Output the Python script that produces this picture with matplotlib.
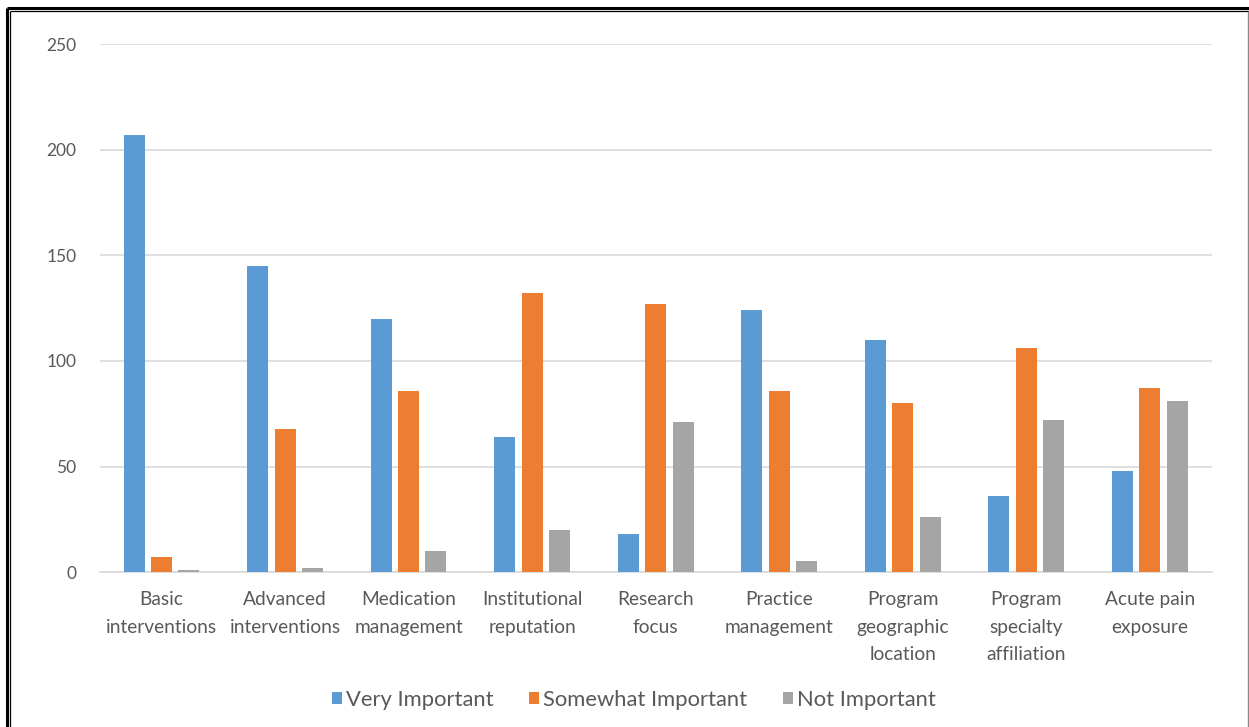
import numpy as np
import matplotlib
matplotlib.use('Agg')
import matplotlib.pyplot as plt
from matplotlib.lines import Line2D

plt.rcParams['font.family'] = ['Lato', 'DejaVu Sans']

categories = ['Basic\ninterventions', 'Advanced\ninterventions', 'Medication\nmanagement',
              'Institutional\nreputation', 'Research\nfocus', 'Practice\nmanagement',
              'Program\ngeographic\nlocation', 'Program\nspecialty\naffiliation',
              'Acute pain\nexposure']
very_important = [207, 145, 120, 64, 18, 124, 110, 36, 48]
somewhat_important = [7, 68, 86, 132, 127, 86, 80, 106, 87]
not_important = [1, 2, 10, 20, 71, 5, 26, 72, 81]

series = ['Very Important', 'Somewhat Important', 'Not Important']
colors = ['#5b9bd5', '#ed7d31', '#a5a5a5']
txt = '#595959'

fig = plt.figure(figsize=(12.49, 7.27), dpi=100)
ax = fig.add_axes([0.080, 0.2132, 0.890, 0.7256])

x = np.arange(len(categories))
w = 0.17
step = 0.221
for i, (vals, lab, c) in enumerate(zip([very_important, somewhat_important, not_important], series, colors)):
    ax.bar(x + (i - 1) * step, vals, width=w, color=c, label=lab, zorder=3)

ax.set_xlim(-0.5, len(categories) - 0.5)
ax.set_ylim(0, 250)
ax.set_yticks(range(0, 251, 50))
ax.yaxis.grid(True, color='#d9d9d9', linewidth=1.2, zorder=0)
for s in ['top', 'right', 'left']:
    ax.spines[s].set_visible(False)
ax.spines['bottom'].set_color('#d9d9d9')
ax.spines['bottom'].set_linewidth(1.2)
ax.tick_params(axis='y', length=0, pad=17, labelsize=12.5, labelcolor=txt)
ax.tick_params(axis='x', length=0, pad=14, labelsize=13.8, labelcolor=txt)
ax.set_xticks(x)
ax.set_xticklabels(categories, linespacing=1.72)

leg = fig.legend(loc='center', bbox_to_anchor=(634 / 1249, 1 - 700 / 727), ncol=3,
                 frameon=False, fontsize=15.8, handlelength=0.45, handleheight=0.45,
                 handletextpad=0.2, columnspacing=1.6)
for t in leg.get_texts():
    t.set_color(txt)

# double frame around the figure
W, H = 1249, 727
def fline(x0, y0, x1, y1, lw, c):
    fig.add_artist(Line2D([x0 / W, x1 / W], [1 - y0 / H, 1 - y1 / H], lw=lw, color=c,
                          transform=fig.transFigure, solid_capstyle='butt'))

fline(7, 8, W, 8, 2.2, 'black')
fline(7, 8, 7, H, 2.2, 'black')
fline(10, 11, W, 11, 0.9, 'black')
fline(10, 11, 10, H, 0.9, 'black')
fline(1248, 11, 1248, H, 1.0, '#888888')

fig.savefig('out.png', dpi=100)
